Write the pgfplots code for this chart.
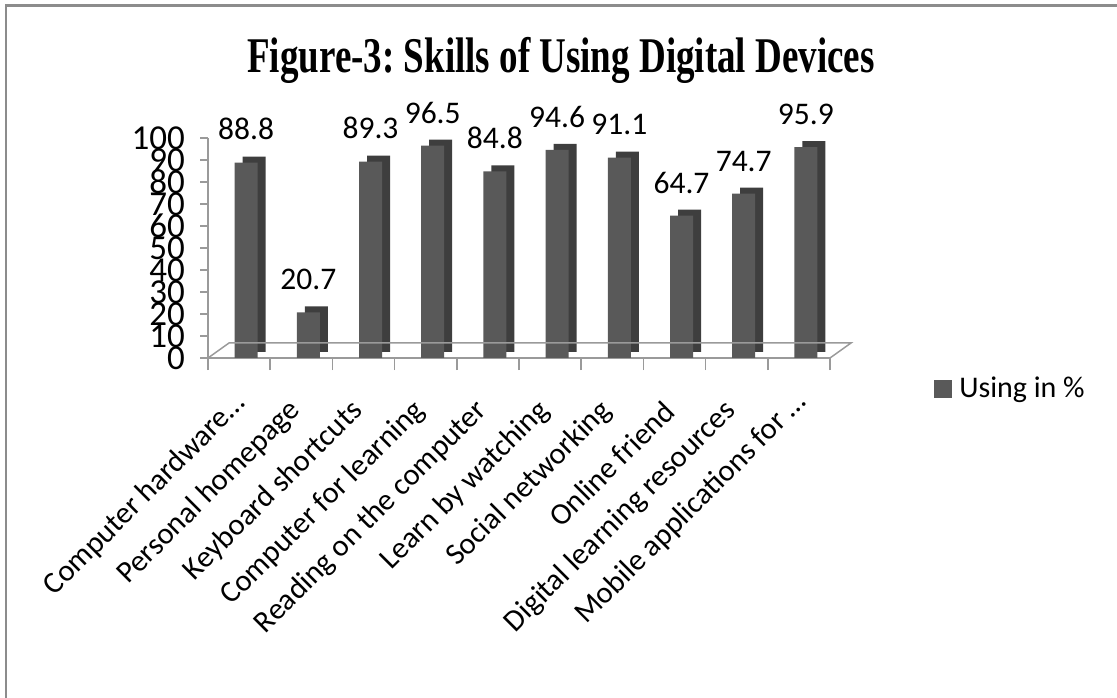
\documentclass[border=0pt]{standalone}
\usepackage{fontspec}
\setmainfont{Carlito}
\newfontfamily\titlefont{Liberation Serif}
\usepackage{graphicx}
\usepackage{pgfplots}
\pgfplotsset{compat=1.18}
\definecolor{barfront}{HTML}{595959}
\definecolor{barside}{HTML}{3E3E3E}
\definecolor{axisgray}{HTML}{9A9A9A}
\definecolor{bordergray}{HTML}{8C8C8C}
\frenchspacing
\begin{document}
\begin{tikzpicture}
\useasboundingbox (0,0) rectangle (558.5bp,349bp);
\draw[bordergray, line width=1.25bp] (3bp,0) -- (3bp,346.25bp) -- (558.5bp,346.25bp);
\node[anchor=base, inner sep=0pt] at (280.5bp,312.5bp) {\titlefont\bfseries\fontsize{18.5bp}{20bp}\selectfont\scalebox{1}[1.35]{Figure-3: Skills of Using Digital Devices}};
\begin{axis}[
  at={(104bp,170bp)}, anchor=south west,
  scale only axis, width=311bp, height=110bp,
  xmin=-0.5, xmax=9.5, ymin=0, ymax=100,
  axis x line*=bottom, axis y line*=left,
  axis line style={axisgray, line width=0.75bp, -},
  font=\fontsize{15.75bp}{17bp}\selectfont,
  /pgf/number format/assume math mode=true,
  ytick={0,10,...,100},
  xtick={0,...,9},
  xticklabels={Computer hardware…\kern-5bp, Personal homepage, Keyboard shortcuts, Computer for learning, Reading on the computer, Learn by watching, Social networking, Online friend, Digital learning resources, Mobile applications for …\kern-6bp},
  minor xtick={-0.5,0.5,...,9.5},
  tick align=outside,
  major tick length=4bp, minor tick length=6bp,
  tick style={axisgray, line width=0.75bp},
  major x tick style={draw=none},
  xticklabel style={xshift=-2.6bp, yshift=-20bp, rotate=45, anchor=east, inner sep=0pt, font=\fontsize{15.25bp}{16bp}\selectfont},
  yticklabel style={xshift=-4bp, font=\fontsize{17.5bp}{18bp}\selectfont},
  ybar, bar width=11.5bp,
  legend style={at={(1.167,-0.141)}, anchor=west, draw=none, fill=none, inner sep=0pt, font=\fontsize{15bp}{16bp}\selectfont, legend cell align=left},
  legend image code/.code={\fill[barfront] (0bp,-4.5bp) rectangle (9bp,4.5bp); \path (10.5bp,0);},
  clip=false,
]
\addplot[fill=barside, draw=none, bar shift=7.5bp, yshift=3bp, forget plot] coordinates {
(0,88.8) (1,20.7) (2,89.3) (3,96.5) (4,84.8) (5,94.6) (6,91.1) (7,64.7) (8,74.7) (9,95.9)};
\addplot[fill=barfront, draw=none, bar shift=3.5bp, nodes near coords, every node near coord/.append style={inner sep=0pt, yshift=11bp, text=black}] coordinates {
(0,88.8) (1,20.7) (2,89.3) (3,96.5) (4,84.8) (5,94.6) (6,91.1) (7,64.7) (8,74.7) (9,95.9)};
\legend{Using in \%}
\draw[axisgray, line width=0.75bp] (axis cs:-0.5,0) -- ++(10.5bp,7.5bp) -- ([shift={(10.5bp,7.5bp)}]axis cs:9.5,0) -- (axis cs:9.5,0);
\end{axis}
\end{tikzpicture}
\end{document}
